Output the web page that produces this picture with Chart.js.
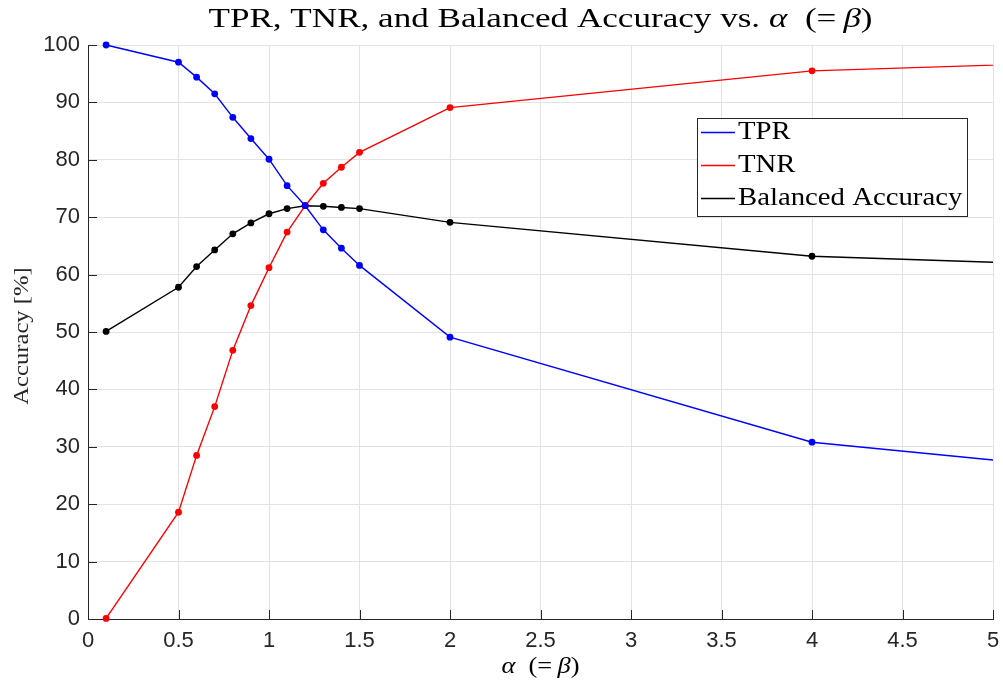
<!DOCTYPE html>
<html>
<head>
<meta charset="utf-8">
<script src="https://cdn.jsdelivr.net/npm/chart.js@4"></script>
<style>
  html, body { margin: 0; padding: 0; background: #fff; }
  #wrap { width: 1003px; height: 689px; }
</style>
</head>
<body>
<div id="wrap"><canvas id="chart" width="1003" height="689"></canvas></div>
<script>
// alpha (= beta) values, last one sits past the axis limit
const alpha = [0.1, 0.5, 0.6, 0.7, 0.8, 0.9, 1.0, 1.1, 1.2, 1.3, 1.4, 1.5, 2, 4, 6];
const tpr = [100, 97, 94.4, 91.5, 87.4, 83.7, 80.1, 75.5, 72, 67.8, 64.6, 61.6, 49.1, 30.8, 24.6];
const tnr = [0.1, 18.6, 28.5, 37, 46.8, 54.6, 61.2, 67.4, 72, 75.9, 78.7, 81.3, 89.1, 95.5, 97.5];
const balAcc = [50.1, 57.8, 61.4, 64.3, 67.1, 69, 70.6, 71.5, 72, 71.9, 71.7, 71.5, 69.1, 63.2, 61.1];

const seriesNames = ["TPR", "TNR", "Balanced Accuracy"];
const seriesColors = ["#0000ff", "#ff0000", "#000000"];
const xTickLabels = ["0", "0.5", "1", "1.5", "2", "2.5", "3", "3.5", "4", "4.5", "5"];
const yTickLabels = ["0", "10", "20", "30", "40", "50", "60", "70", "80", "90", "100"];

const SERIF = "'Liberation Serif', 'DejaVu Serif', serif";
const SANS = "'Liberation Sans', Arial, Helvetica, sans-serif";
const AXIS = "#262626";

function toPoints(ys) {
  return alpha.map((x, i) => ({ x: x, y: ys[i] }));
}

const datasets = [tpr, tnr, balAcc].map((ys, i) => ({
  label: seriesNames[i],
  data: toPoints(ys),
  borderColor: seriesColors[i],
  backgroundColor: seriesColors[i],
  borderWidth: 1.4,
  pointRadius: 3.4,
  pointBorderWidth: 0,
  pointHoverRadius: 3.4,
  tension: 0,
  clip: { left: 8, top: 8, right: 0, bottom: 8 }
}));

// serif text with a few italic pieces, stretched a bit (LaTeX fonts run wide)
function drawMixed(ctx, parts, x0, cy, size, stretch, align) {
  const fonts = parts.map(p => (p[1] ? "italic " : "") + size + "px " + SERIF);
  let total = 0;
  parts.forEach((p, i) => { ctx.font = fonts[i]; total += ctx.measureText(p[0]).width; });
  ctx.save();
  ctx.translate(x0, cy);
  ctx.scale(stretch, 1);
  let x = align === "left" ? 0 : -total / 2;
  ctx.textAlign = "left";
  ctx.textBaseline = "middle";
  parts.forEach((p, i) => {
    ctx.font = fonts[i];
    ctx.fillText(p[0], x, 0);
    x += ctx.measureText(p[0]).width;
  });
  ctx.restore();
}

// titles, inward ticks and the boxed legend, MATLAB style
const decor = {
  id: "decor",
  afterDraw(chart) {
    const ctx = chart.ctx;
    const a = chart.chartArea;
    const xs = chart.scales.x, ys = chart.scales.y;
    ctx.save();

    // inward tick marks
    ctx.strokeStyle = AXIS;
    ctx.lineWidth = 1;
    ctx.beginPath();
    xs.ticks.forEach(t => {
      const px = Math.round(xs.getPixelForValue(t.value)) + 0.5;
      ctx.moveTo(px, a.bottom);
      ctx.lineTo(px, a.bottom - 9);
    });
    ys.ticks.forEach(t => {
      const py = Math.round(ys.getPixelForValue(t.value)) + 0.5;
      ctx.moveTo(a.left, py);
      ctx.lineTo(a.left + 9, py);
    });
    ctx.stroke();

    const cx = (a.left + a.right) / 2;
    ctx.fillStyle = "#000";

    // title
    drawMixed(ctx, [
      ["TPR, TNR, and Balanced Accuracy vs. ", false],
      ["\u03b1", true],
      ["\u2002(=\u2009", false],
      ["\u03b2", true],
      [")", false]
    ], cx, 20, 27, 1.3);

    // x label
    drawMixed(ctx, [
      ["\u03b1", true],
      ["\u2002(=\u2009", false],
      ["\u03b2", true],
      [")", false]
    ], cx, 667, 23, 1.15);

    // y label
    ctx.save();
    ctx.translate(22, (a.top + a.bottom) / 2 + 4);
    ctx.rotate(-Math.PI / 2);
    ctx.fillStyle = "#262626";
    drawMixed(ctx, [["Accuracy [%]", false]], 0, 0, 22, 1.12);
    ctx.restore();

    // legend box
    const lx = 697, ly = 118, lw = 270, lh = 98;
    ctx.fillStyle = "#fff";
    ctx.fillRect(lx, ly, lw, lh);
    ctx.strokeStyle = "#262626";
    ctx.lineWidth = 1;
    ctx.strokeRect(lx + 0.5, ly + 0.5, lw, lh);
    chart.data.datasets.forEach((ds, i) => {
      const ry = ly + 14 + i * 33;
      ctx.strokeStyle = ds.borderColor;
      ctx.lineWidth = 1.3;
      ctx.beginPath();
      ctx.moveTo(lx + 4, ry + 0.5);
      ctx.lineTo(lx + 38, ry + 0.5);
      ctx.stroke();
      ctx.fillStyle = "#000";
      drawMixed(ctx, [[ds.label, false]], lx + 41, ry, 25, 1.15, "left");
    });
    ctx.restore();
  }
};

new Chart(document.getElementById("chart"), {
  type: "line",
  data: { datasets: datasets },
  options: {
    responsive: false,
    animation: false,
    devicePixelRatio: 1,
    layout: { padding: { top: 45, right: 10, left: 0, bottom: 0 } },
    plugins: {
      legend: { display: false },
      title: { display: false },
      tooltip: { enabled: false }
    },
    scales: {
      x: {
        type: "linear",
        min: 0,
        max: 5,
        ticks: {
          stepSize: 0.5,
          color: AXIS,
          font: { family: SANS, size: 22 },
          padding: 9,
          maxRotation: 0,
          callback: (v, i) => xTickLabels[i]
        },
        grid: { color: "#e3e3e3", drawTicks: false, lineWidth: 1 },
        border: { color: AXIS, width: 1 },
        afterFit: s => { s.height = 70; s.paddingLeft = 0; s.paddingRight = 0; }
      },
      y: {
        min: 0,
        max: 100,
        ticks: {
          stepSize: 10,
          color: AXIS,
          font: { family: SANS, size: 22 },
          padding: 8,
          callback: (v, i) => yTickLabels[i]
        },
        grid: { color: "#e3e3e3", drawTicks: false, lineWidth: 1 },
        border: { color: AXIS, width: 1 },
        afterFit: s => { s.width = 88; s.paddingTop = 0; s.paddingBottom = 0; }
      }
    }
  },
  plugins: [decor]
});
</script>
</body>
</html>
